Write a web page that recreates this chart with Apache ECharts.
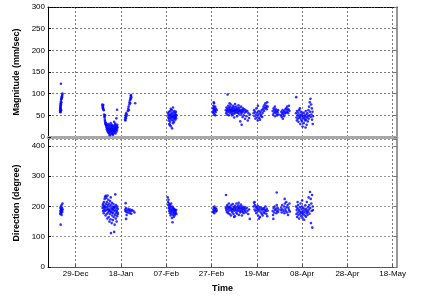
<!DOCTYPE html>
<html><head><meta charset="utf-8">
<script src="https://cdn.jsdelivr.net/npm/echarts@6/dist/echarts.min.js"></script>
<style>html,body{margin:0;padding:0;background:#fff}#c{width:436px;height:297px}</style>
</head><body><div id="c"></div>
<script>
// x = days since 2008-12-09 (20 = 29-Dec)
const xTicks = [20, 40, 60, 80, 100, 120, 140, 160];
const MONTHS = ['Jan','Feb','Mar','Apr','May','Jun','Jul','Aug','Sep','Oct','Nov','Dec'];
const magTicks = [0, 50, 100, 150, 200, 250, 300];
const dirTicks = [0, 100, 200, 300, 400];

// Magnitude (mm/sec) clusters: [day, value]
const mag1 = [[13.2,57],[13.2,62],[13.25,66],[13.3,60],[13.3,70],[13.3,74],[13.35,68],[13.4,64],[13.4,78],[13.45,72],[13.5,82],[13.55,76],[13.6,86],[13.7,80],[13.75,90],[13.8,88],[13.9,94],[14.0,92],[14.1,97],[14.2,100],[13.5,123],[13.3,58],[13.6,62]];
const mag2 = [[31.8,75],[31.9,72],[32.0,70],[32.1,68],[32.0,66],[32.2,74],[32.3,64],[32.4,62],[32.6,52],[32.7,48],[32.8,45],[32.9,40],[33.0,36],[33.1,33],[33.2,30],[33.0,50],[33.3,28],[33.4,32],[33.5,26],
[33.6,22],[33.8,18],[33.9,25],[34.0,15],[34.1,20],[34.2,12],[34.3,28],[34.4,16],[34.5,10],[34.6,22],[34.7,18],[34.8,8],[34.9,14],[35.0,24],[35.1,19],[35.2,11],[35.3,27],[35.4,15],[35.5,6],[35.6,21],[35.7,13],[35.8,17],[35.9,25],[36.0,9],[36.1,19],[36.2,14],[36.3,22],[36.4,7],[36.5,16],[36.6,26],[36.7,12],[36.8,20],[36.9,18],[37.0,10],[37.1,24],[37.2,15],[37.3,28],[37.4,13],[37.5,20],[37.6,8],[37.7,22],[37.8,17],[37.9,26],[38.0,12],[38.1,20],[38.2,24],[38.3,16],[38.4,28],[38.5,22],[34.5,30],[35.5,32],[36.5,5],[37.5,31],[36.0,28],[35.0,4],[38.3,63],[38.0,43],[37.0,35]];
const mag3 = [[41.8,40],[41.9,45],[42.0,38],[42.1,50],[42.2,43],[42.3,55],[42.4,48],[42.6,52],[43.0,60],[43.2,65],[43.4,70],[43.5,62],[43.7,75],[43.8,80],[44.0,85],[44.1,78],[44.2,90],[44.3,95],[44.4,88],[44.5,97],[44.6,92],[46.3,78]];
const mag4 = [[60.8,55],[60.9,45],[61.0,50],[61.1,38],[61.2,58],[61.3,42],[61.4,30],[61.5,52],[61.6,47],[61.7,35],[61.8,60],[61.9,44],[62.0,25],[62.1,50],[62.2,40],[62.3,55],[62.4,48],[62.5,62],[62.6,20],[62.7,45],[62.8,53],[62.9,38],[63.0,68],[63.1,46],[63.2,57],[63.3,42],[63.4,50],[63.5,35],[63.6,60],[63.7,48],[63.8,44],[63.9,55],[64.0,40],[64.1,52],[64.2,47],[64.3,58],[64.4,43],[64.5,50],[62.0,65],[61.5,28],[63.0,32]];
const mag5 = [[80.6,58],[80.7,66],[80.8,72],[80.9,55],[81.0,62],[81.1,78],[81.2,68],[81.3,52],[81.4,64],[81.5,60],[81.6,70],[81.8,57],[82.0,65],[82.2,62],[81.0,80],[81.7,50]];
const mag6 = [[86.3,62],[86.5,55],[86.6,68],[86.8,60],[86.9,52],[87.0,65],[87.1,98],[87.2,58],[87.3,72],[87.5,63],[87.6,50],[87.7,67],[87.9,60],[88.0,56],[88.1,70],[88.3,64],[88.4,59],[88.5,75],[88.7,62],[88.8,54],[88.9,68],[89.1,61],[89.2,57],[89.3,66],[89.5,72],[89.6,60],[89.7,53],[89.9,64],[90.0,69],[90.1,58],[90.3,62],[90.4,76],[90.5,55],[90.7,65],[90.8,60],[90.9,70],[91.1,57],[91.2,63],[91.3,48],[91.5,67],[91.6,61],[91.7,55],[91.9,73],[92.0,59],[92.1,64],[92.3,52],[92.4,68],[92.5,60],[92.7,36],[92.8,62],[92.9,57],[93.1,70],[93.2,54],[93.3,28],[93.5,63],[93.6,58],[93.7,46],[93.9,66],[94.0,60],[94.2,50],[94.4,64],[94.6,56],[94.8,42],[95.0,62],[95.2,58],[95.5,48],[95.8,60],[96.0,38],[96.3,55],[96.6,44],[97.0,52],[90.0,45],[89.0,50],[88.0,78]];
const mag7 = [[98.6,55],[98.8,62],[99.0,48],[99.2,58],[99.4,42],[99.6,52],[99.8,66],[100.0,45],[100.2,56],[100.4,38],[100.6,50],[100.8,60],[101.0,44],[101.2,54],[101.4,40],[101.6,58],[101.8,48],[102.0,52],[102.2,62],[102.4,46],[102.6,56],[102.8,65],[103.0,70],[103.2,60],[103.4,74],[103.6,66],[103.8,78],[104.0,68],[104.2,72],[104.4,64],[104.6,80],[104.8,70],[100.5,72]];
const mag8 = [[107.0,60],[107.2,52],[107.4,66],[107.6,56],[107.8,62],[108.0,48],[108.2,58],[108.4,64],[108.6,54],[108.8,60],[109.0,50],[109.2,57],[109.4,62],[109.6,52],[108.0,70]];
const mag9 = [[110.6,50],[110.8,58],[111.0,46],[111.2,55],[111.4,62],[111.6,52],[111.8,57],[112.0,48],[112.2,60],[112.4,54],[112.6,64],[112.8,56],[113.0,66],[113.2,58],[113.4,70],[113.6,62],[113.8,55],[114.0,64],[114.2,72],[114.4,60],[111.5,42]];
const mag10 = [[117.3,55],[117.4,92],[117.5,45],[117.7,38],[117.8,60],[118.0,50],[118.1,42],[118.3,56],[118.4,35],[118.6,48],[118.7,62],[118.9,44],[119.0,52],[119.2,30],[119.3,46],[119.5,58],[119.6,40],[119.8,50],[119.9,36],[120.1,54],[120.2,24],[120.4,44],[120.5,48],[120.7,32],[120.8,56],[121.0,42],[121.1,50],[121.3,38],[121.4,46],[121.6,60],[121.7,40],[121.9,52],[122.0,28],[122.2,45],[122.3,55],[122.5,36],[122.6,48],[122.8,62],[122.9,42],[123.1,70],[123.2,50],[123.4,80],[123.5,58],[123.7,88],[123.8,46],[124.0,75],[124.1,52],[124.3,66],[124.4,40],[124.6,58],[124.7,30],[124.8,48],[121.5,22],[119.0,66]];

// Direction (degree) clusters: [day, value]
const dir1 = [[13.2,175],[13.3,185],[13.3,195],[13.4,180],[13.5,200],[13.5,188],[13.6,178],[13.7,192],[13.8,205],[13.9,186],[14.0,196],[14.1,182],[14.2,210],[14.3,190],[13.4,140],[13.8,172]];
const dir2 = [[31.9,195],[32.0,205],[32.1,185],[32.2,210],[32.3,198],[32.4,178],[32.5,215],[32.6,190],[32.7,202],[32.8,225],[32.9,185],[33.0,232],[33.1,195],[33.2,170],[33.3,235],[33.4,208],[33.5,188],[33.6,228],[33.7,175],[33.8,215],[33.9,198],[34.0,160],[34.1,236],[34.2,205],[34.3,180],[34.4,222],[34.5,192],[34.6,165],[34.7,210],[34.8,185],[34.9,150],[35.0,200],[35.1,175],[35.2,218],[35.3,190],[35.4,158],[35.5,205],[35.6,112],[35.7,182],[35.8,195],[35.9,145],[36.0,212],[36.1,170],[36.2,188],[36.3,200],[36.4,155],[36.5,192],[36.6,178],[36.7,208],[36.8,165],[36.9,195],[37.0,116],[37.1,185],[37.2,140],[37.3,200],[37.4,172],[37.5,240],[37.6,188],[37.7,160],[37.8,205],[37.9,178],[38.0,195],[38.1,150],[38.2,185],[38.3,168],[38.4,200],[38.5,180],[38.6,192],[38.7,175],[33.0,200],[34.0,190],[35.0,185],[36.0,180],[37.0,198],[35.5,230]];
const dir3 = [[41.9,190],[42.0,185],[42.1,211],[42.2,195],[42.3,159],[42.4,182],[42.5,172],[42.8,188],[43.0,180],[43.3,192],[43.6,186],[43.9,178],[44.1,190],[44.3,184],[44.6,176],[44.9,188],[46.0,180],[45.5,185]];
const dir4 = [[60.7,230],[60.8,215],[60.9,205],[61.0,222],[61.1,195],[61.2,210],[61.3,185],[61.4,200],[61.5,192],[61.6,178],[61.7,205],[61.8,188],[61.9,170],[62.0,198],[62.1,182],[62.2,210],[62.3,175],[62.4,192],[62.5,162],[62.6,186],[62.7,200],[62.8,148],[62.9,180],[63.0,195],[63.1,172],[63.2,188],[63.3,165],[63.4,192],[63.5,178],[63.6,184],[63.7,170],[63.8,190],[63.9,176],[64.0,186],[64.2,180],[64.4,188],[64.5,175]];
const dir5 = [[80.6,182],[80.8,190],[81.0,196],[81.1,185],[81.3,200],[81.5,188],[81.7,194],[81.9,183],[82.1,192],[82.3,186],[81.2,178]];
const dir6 = [[86.3,195],[86.4,238],[86.5,188],[86.7,200],[86.8,182],[87.0,205],[87.1,192],[87.3,178],[87.4,198],[87.6,186],[87.7,210],[87.9,194],[88.0,175],[88.2,200],[88.3,188],[88.5,196],[88.6,170],[88.8,205],[88.9,185],[89.1,192],[89.2,180],[89.4,208],[89.5,190],[89.7,175],[89.8,198],[90.0,186],[90.1,194],[90.3,168],[90.4,202],[90.6,188],[90.7,196],[90.9,180],[91.0,210],[91.2,190],[91.3,176],[91.5,198],[91.6,185],[91.8,204],[91.9,192],[92.1,172],[92.2,196],[92.4,186],[92.5,200],[92.7,180],[92.8,192],[93.0,206],[93.1,184],[93.3,195],[93.4,170],[93.6,188],[93.7,200],[93.9,182],[94.0,194],[94.2,178],[94.4,190],[94.6,198],[94.8,185],[95.0,192],[95.3,180],[95.6,196],[95.9,186],[96.2,175],[96.6,190],[96.9,159],[90.0,165],[92.0,212]];
const dir7 = [[98.6,200],[98.8,212],[99.0,190],[99.2,205],[99.4,185],[99.6,198],[99.8,178],[100.0,195],[100.2,188],[100.4,202],[100.6,170],[100.8,192],[101.0,184],[101.2,198],[101.4,165],[101.6,190],[101.8,180],[102.0,196],[102.2,175],[102.4,188],[102.6,170],[102.8,192],[103.0,182],[103.2,195],[103.4,178],[103.6,188],[103.8,200],[104.0,185],[104.2,176],[104.4,192],[104.6,168],[104.8,186],[99.0,215],[101.0,160]];
const dir8 = [[107.0,185],[107.2,172],[107.4,195],[107.6,180],[107.8,200],[108.0,188],[108.8,246],[108.4,192],[108.6,178],[108.8,205],[109.0,185],[109.2,196],[109.4,182],[109.6,190],[107.3,159]];
const dir9 = [[110.6,188],[110.8,196],[111.0,180],[111.2,205],[111.4,190],[112.3,225],[111.8,185],[112.0,200],[112.2,178],[112.4,210],[112.6,192],[112.8,185],[113.0,215],[113.2,198],[113.4,180],[113.6,205],[113.8,172],[114.0,195],[114.2,188],[114.4,210],[114.6,183]];
const dir10 = [[117.3,200],[117.5,175],[117.6,188],[117.8,165],[117.9,195],[118.1,180],[118.2,205],[118.4,172],[118.5,190],[118.7,160],[118.8,185],[119.0,198],[119.1,176],[119.3,210],[119.4,182],[119.6,168],[119.7,192],[119.9,178],[120.0,200],[120.2,162],[120.3,186],[120.5,174],[120.6,195],[120.8,180],[120.9,156],[121.1,190],[121.2,170],[121.4,204],[121.5,184],[121.7,166],[121.8,192],[122.0,178],[122.1,215],[122.3,186],[122.4,172],[122.6,198],[122.7,182],[122.9,230],[123.0,190],[123.2,205],[123.3,176],[123.5,248],[123.6,195],[123.8,225],[123.9,145],[124.1,210],[124.2,185],[124.4,238],[124.5,130],[124.7,200],[124.8,188],[120.0,220],[118.0,215]];

const magData = [].concat(mag1, mag2, mag3, mag4, mag5, mag6, mag7, mag8, mag9, mag10);
const dirData = [].concat(dir1, dir2, dir3, dir4, dir5, dir6, dir7, dir8, dir9, dir10);

function fmtDate(v) {
  const d = new Date(Date.UTC(2008, 11, 9) + Math.round(v) * 86400000);
  return String(d.getUTCDate()).padStart(2, '0') + '-' + MONTHS[d.getUTCMonth()];
}

const FONT = 'Liberation Sans';
const gridLine = { show: true, lineStyle: { color: '#777', type: [2, 2], width: 1 } };
const XMIN = 7.8, XMAX = 161.9;

const chart = echarts.init(document.getElementById('c'), null, { renderer: 'canvas' });
chart.setOption({
  animation: false,
  backgroundColor: '#fff',
  grid: [
    { left: 48, top: 7, width: 349, height: 130 },
    { left: 48, top: 139, width: 349, height: 128 }
  ],
  xAxis: [
    { gridIndex: 0, type: 'value', min: XMIN, max: XMAX, position: 'bottom',
      axisLine: { onZero: false, lineStyle: { color: '#a8a8a8', width: 3 } },
      axisTick: { show: false, customValues: xTicks }, axisLabel: { show: false, customValues: xTicks },
      splitLine: gridLine },
    { gridIndex: 0, type: 'value', min: XMIN, max: XMAX, position: 'top',
      axisLine: { onZero: false, lineStyle: { color: '#000', width: 1, type: [2, 1] } },
      axisTick: { show: false }, axisLabel: { show: false }, splitLine: { show: false } },
    { gridIndex: 1, type: 'value', min: XMIN, max: XMAX, position: 'bottom',
      name: 'Time', nameLocation: 'middle', nameGap: 17,
      nameTextStyle: { fontFamily: FONT, fontSize: 9, fontWeight: 'bold', color: '#000' },
      axisLine: { onZero: false, lineStyle: { color: '#555', width: 1 } },
      axisTick: { show: true, inside: true, length: 3, customValues: xTicks, lineStyle: { color: '#555' } },
      axisLabel: { customValues: xTicks, formatter: fmtDate, fontFamily: FONT, fontSize: 8, color: '#000', margin: 3 },
      splitLine: gridLine }
  ],
  yAxis: [
    { gridIndex: 0, type: 'value', min: 0, max: 300, interval: 50, position: 'left',
      name: 'Magnitude (mm/sec)', nameLocation: 'middle', nameGap: 22,
      nameTextStyle: { fontFamily: FONT, fontSize: 9, fontWeight: 'bold', color: '#000' },
      axisLine: { show: true, onZero: false, lineStyle: { color: '#000', width: 1 } },
      axisTick: { show: true, inside: true, length: 3, lineStyle: { color: '#000' } },
      axisLabel: { fontFamily: FONT, fontSize: 8, color: '#000', margin: 3 },
      splitLine: gridLine },
    { gridIndex: 0, type: 'value', min: 0, max: 300, interval: 50, position: 'right',
      axisLine: { show: true, onZero: false, lineStyle: { color: '#777', width: 1.5 } },
      axisTick: { show: true, inside: true, length: 3, lineStyle: { color: '#777' } },
      axisLabel: { show: false }, splitLine: { show: false } },
    { gridIndex: 1, type: 'value', min: 0, max: 423, interval: 100, position: 'left',
      name: 'Direction (degree)', nameLocation: 'middle', nameGap: 22,
      nameTextStyle: { fontFamily: FONT, fontSize: 9, fontWeight: 'bold', color: '#000' },
      axisLine: { show: true, onZero: false, lineStyle: { color: '#000', width: 1 } },
      axisTick: { show: true, inside: true, length: 3, lineStyle: { color: '#000' } },
      axisLabel: { fontFamily: FONT, fontSize: 8, color: '#000', margin: 3, showMaxLabel: false },
      splitLine: { show: true, lineStyle: { color: '#999', type: [2, 2], width: 1 } } },
    { gridIndex: 1, type: 'value', min: 0, max: 423, interval: 100, position: 'right',
      axisLine: { show: true, onZero: false, lineStyle: { color: '#777', width: 1.5 } },
      axisTick: { show: true, inside: true, length: 3, lineStyle: { color: '#777' } },
      axisLabel: { show: false }, splitLine: { show: false } }
  ],
  series: [
    { type: 'scatter', xAxisIndex: 0, yAxisIndex: 0, data: magData, symbol: 'circle', symbolSize: 2.6,
      itemStyle: { color: '#0000ff' }, silent: true },
    { type: 'scatter', xAxisIndex: 2, yAxisIndex: 2, data: dirData, symbol: 'circle', symbolSize: 2.6,
      itemStyle: { color: '#0000ff' }, silent: true }
  ]
});
</script></body></html>
